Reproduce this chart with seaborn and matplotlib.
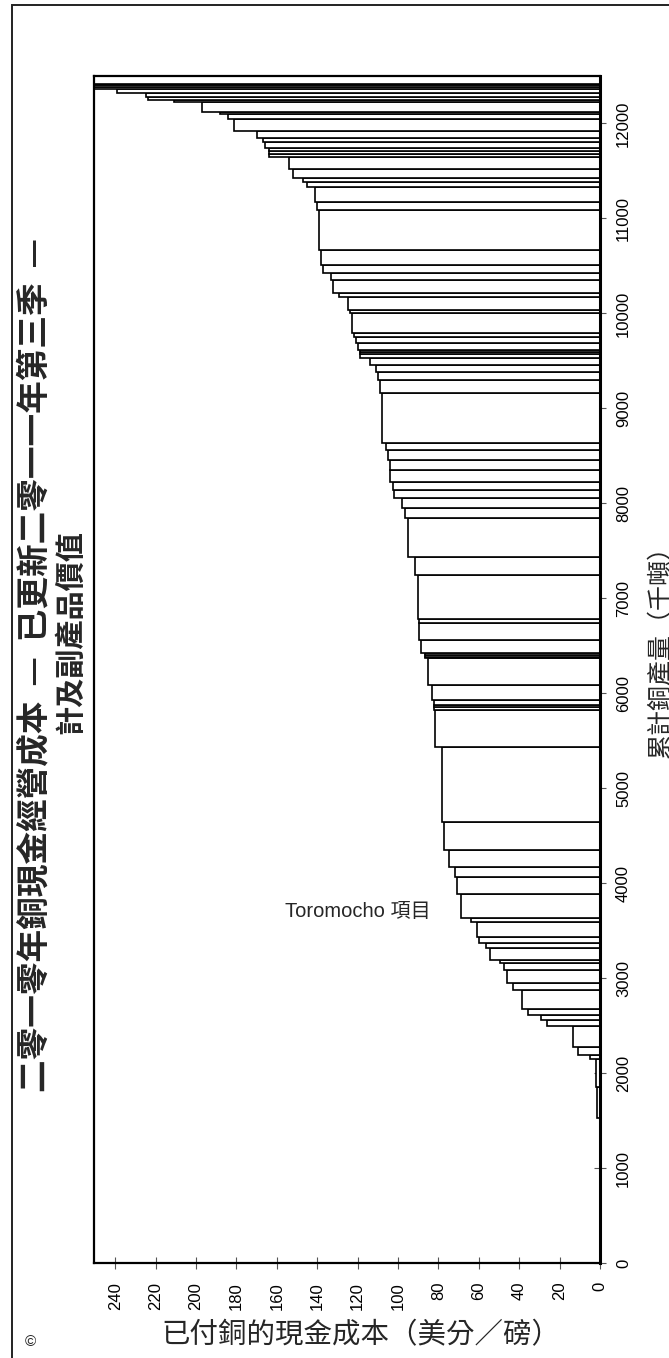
import numpy as np
import matplotlib
matplotlib.use("Agg")
import matplotlib.pyplot as plt
import seaborn as sns
from matplotlib.patches import Rectangle

# cash cost curve: production of each operation (kt) and its cash cost (US c/lb),
# ordered from cheapest to most expensive
production = [400, 263, 253, 94, 306, 137, 73, 324, 297, 43,
              84, 221, 63, 52, 64, 200, 73, 137, 74, 31,
              127, 52, 64, 157, 42, 253, 179, 105, 179, 295,
              790, 389, 30, 30, 45, 158, 284, 11, 21, 21,
              137, 179, 42, 463, 189,
              411, 105, 106, 84, 84, 126, 106, 105, 73, 527,
              137, 84, 74, 73, 42, 21, 21, 74, 63, 42, 210, 32,
              137, 42, 137, 74, 84, 158, 421, 84, 158, 53,
              52, 85, 126, 35, 35, 35, 53, 42, 84, 126, 53, 11,
              105, 21, 42, 32, 52, 21, 21, 11, 99]
cash_cost = [-30, -15, -10, -25, -8, -5, -2, 1.5, 2, 5,
             11, 13.5, 26.4, 29.4, 35.6, 38.5, 43, 46, 47.5, 49.5,
             54.5, 56.4, 60, 61, 64, 69, 71, 72, 75, 77,
             78, 81.7, 82, 82, 82, 83, 85, 86.6, 86.6, 86.6,
             88.6, 89.5, 89.5, 90, 91.6,
             95, 96.5, 98, 102, 102.5, 104, 104, 105, 106, 108,
             109, 110, 111, 114, 119, 119, 119, 120, 121, 122, 123, 124,
             125, 129, 132, 133, 137, 138, 139, 140, 141, 145,
             147, 152, 154, 164, 164, 164, 166, 167, 170, 181, 184, 188,
             197, 211, 224, 225, 239, 260, 270, 280, 300]

cost_ticks = list(range(0, 241, 20))
prod_ticks = list(range(0, 12001, 1000))

title_1 = "二零一零年銅現金經營成本  —  已更新二零一一年第三季  —"
title_2 = "計及副產品價值"
xlabel = "已付銅的現金成本（美分／磅）"
ylabel = "累計銅產量（千噸）"
note = "Toromocho 項目"

sns.set_theme(style="white")
cjk = ["Noto Sans CJK TC", "DejaVu Sans"]
latin = ["Liberation Sans", "Noto Sans CJK TC"]
plt.rcParams["font.family"] = latin

starts = np.concatenate([[0], np.cumsum(production)[:-1]])

W, H = 669, 1358
fig = plt.figure(figsize=(W / 100, H / 100), dpi=100)
ax = fig.add_axes([94 / W, 1 - 1263 / H, (600 - 94) / W, (1263 - 76) / H])

# the chart is laid out rotated: production runs upwards, cost runs to the left
ax.barh(starts, cash_cost, height=production, align="edge", left=0,
        color="white", edgecolor="black", linewidth=1.2)

ax.set_xlim(250.5, 0)
ax.set_ylim(0, 12500)
ax.set_xticks(cost_ticks)
ax.set_yticks(prod_ticks)
ax.yaxis.tick_right()
ax.tick_params(axis="both", direction="inout", length=9, width=0.8,
               color="#555555", labelsize=12, labelcolor="black")
ax.tick_params(axis="x", pad=9, labelrotation=90, bottom=True)
ax.tick_params(axis="y", pad=7, labelrotation=90, right=True, left=False)
for lab in ax.get_yticklabels():
    lab.set_va("center")
for sp in ax.spines.values():
    sp.set_color("black")
    sp.set_linewidth(1.6)
    sp.set_visible(True)
ax.spines["right"].set_linewidth(2.2)
ax.grid(False)

ax.text(84, 3700, note, ha="right", va="center", fontsize=14.5, family=latin)

fig.text(35 / W, 1 - 665 / H, title_1, rotation=90, ha="center", va="center",
         fontsize=23.5, fontweight="bold", family=cjk)
fig.text(70 / W, 1 - 632 / H, title_2, rotation=90, ha="center", va="center",
         fontsize=21, fontweight="bold", family=cjk)
fig.text(361 / W, 1 - 1335 / H, xlabel, ha="center", va="center",
         fontsize=20.5, family=cjk)
fig.text(660 / W, 1 - 645 / H, ylabel, rotation=90, ha="center", va="center",
         fontsize=18, family=cjk)
fig.text(30 / W, 1 - 1342 / H, "©", ha="center", va="center", fontsize=11,
         family=latin)

# outer frame of the page
fig.patches.append(Rectangle((12 / W, -0.05), 2, 1.05 - 5 / H,
                             transform=fig.transFigure, fill=False,
                             edgecolor="#222222", linewidth=1.4))

fig.savefig("out.png", dpi=100)
